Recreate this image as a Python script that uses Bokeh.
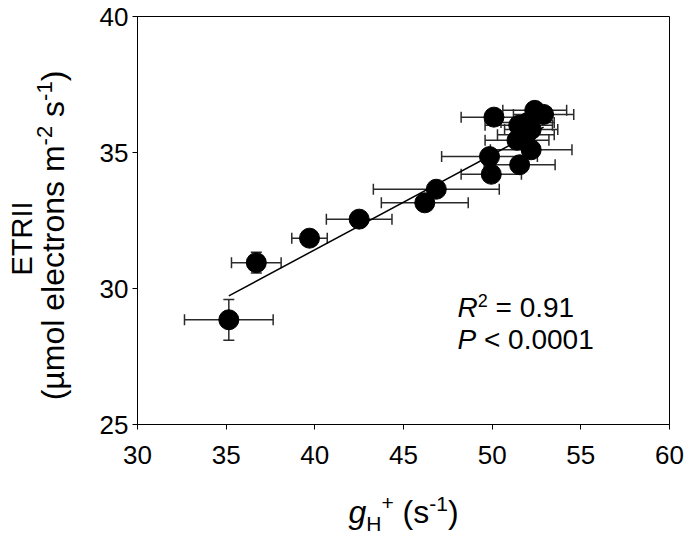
import math
from bokeh.plotting import figure
from bokeh.layouts import row, column
from bokeh.models import ColumnDataSource, Whisker, TeeHead, Label, Range1d, FixedTicker
from bokeh.embed import file_html
from bokeh.resources import INLINE

# ---- data ----
gh = [35.15, 36.7, 39.7, 42.5, 46.2, 46.85, 49.95, 49.85, 51.55, 52.2,
      51.4, 51.9, 51.5, 52.2, 50.1, 52.4, 52.9, 52.0]
etr = [28.85, 30.95, 31.85, 32.55, 33.15, 33.65, 34.2, 34.85, 34.55, 35.1,
       35.45, 35.65, 36.0, 35.85, 36.3, 36.55, 36.4, 36.1]
gh_err = [2.5, 1.4, 1.0, 1.85, 2.45, 3.55, 1.7, 2.7, 2.0, 2.3,
          1.8, 1.6, 1.9, 1.5, 1.85, 1.8, 1.7, 1.5]
etr_err = [0.75, 0.38, 0.2, 0.2, 0.2, 0.2, 0.2, 0.2, 0.2, 0.2,
           0.2, 0.2, 0.2, 0.2, 0.2, 0.2, 0.2, 0.2]
fit_intercept = 17.44
fit_slope = 0.3496
x_ticks = [30, 35, 40, 45, 50, 55, 60]
y_ticks = [25, 30, 35, 40]
r2_text = "0.91"
p_text = "0.0001"

FONT = "Liberation Sans"
NB = "\u00a0"
BASE_FIX = 0.4   # empirical: label glyph baseline sits this many em below the anchor
W = {' ': 278, NB: 278, '(': 333, ')': 333, 'µ': 576, 'm': 833, 'o': 556, 'l': 222,
     'e': 556, 'c': 500, 't': 278, 'r': 333, 'n': 556, 's': 500, '-': 333, '1': 556,
     '2': 556, 'H': 722, '+': 584, 'g': 556, 'R': 722, 'P': 667, '=': 584, '<': 584,
     '0': 556, '.': 278, '9': 556, 'E': 667, 'T': 611, 'I': 278}


def tw(s, size):
    return sum(W.get(c, 556) for c in s) * size / 1000.0


def mk_label(x, y, text, size, style="normal", angle=0.0, align="left",
             x_offset=0.0, y_offset=0.0):
    if angle:
        x_offset -= BASE_FIX * size
    else:
        y_offset += BASE_FIX * size
    lab = Label(x=x, y=y, text=text, angle=angle, x_offset=x_offset, y_offset=y_offset)
    lab.text_font = FONT
    lab.text_font_size = f"{size}px"
    lab.text_font_style = style
    lab.text_color = "black"
    lab.text_align = align
    lab.text_baseline = "alphabetic"
    return lab


# ---- layout sizes (page pixels) ----
LW = 90            # width of the left title strip
PW = 685 - LW      # main figure width
PH = 480           # main figure height
BH = 536 - PH      # bottom title strip height
TOP = 16           # frame top (page px)
BOT = 424          # frame bottom (page px)

src = ColumnDataSource(dict(
    x=gh, y=etr,
    xl=[a - b for a, b in zip(gh, gh_err)], xu=[a + b for a, b in zip(gh, gh_err)],
    yl=[a - b for a, b in zip(etr, etr_err)], yu=[a + b for a, b in zip(etr, etr_err)],
))

p = figure(width=PW, height=PH, output_backend="svg", toolbar_location=None,
           x_range=Range1d(30, 60), y_range=Range1d(25, 40),
           min_border_left=137 - LW, min_border_right=16, min_border_top=TOP,
           min_border_bottom=PH - BOT)
p.background_fill_color = "white"
p.border_fill_color = "white"
p.xgrid.visible = False
p.ygrid.visible = False
p.outline_line_color = "black"
p.outline_line_width = 1
for ax in (p.xaxis[0], p.yaxis[0]):
    ax.major_tick_out = 5
    ax.major_tick_in = 0
    ax.minor_tick_out = 0
    ax.minor_tick_in = 0
    ax.axis_line_color = "black"
    ax.major_tick_line_color = "black"
    ax.major_label_text_font = FONT
    ax.major_label_text_font_size = "26px"
    ax.major_label_text_color = "black"
p.xaxis[0].ticker = FixedTicker(ticks=x_ticks)
p.yaxis[0].ticker = FixedTicker(ticks=y_ticks)
p.xaxis[0].major_label_standoff = 16
p.yaxis[0].major_label_standoff = 4

# error bars
col = "#2a2a2a"
p.add_layout(Whisker(source=src, base="y", lower="xl", upper="xu", dimension="width",
                     line_color=col, line_width=1.5,
                     lower_head=TeeHead(size=11, line_color=col, line_width=1.5),
                     upper_head=TeeHead(size=11, line_color=col, line_width=1.5)))
p.add_layout(Whisker(source=src, base="x", lower="yl", upper="yu", dimension="height",
                     line_color=col, line_width=1.5,
                     lower_head=TeeHead(size=11, line_color=col, line_width=1.5),
                     upper_head=TeeHead(size=11, line_color=col, line_width=1.5)))

# regression line
fx = [min(gh), max(gh)]
fy = [fit_intercept + fit_slope * v for v in fx]
p.line(fx, fy, line_color="black", line_width=1.5)

p.scatter("x", "y", source=src, size=20, fill_color="black", line_color="black")

# statistics text (data position of the block's left/baseline)
PX = 532 / 30.0
PY = (BOT - TOP) / 15.0
sx0 = 30 + (457 - 137) / PX
r2y = 25 + (BOT - 318) / PY
py_ = 25 + (BOT - 350) / PY
adv = 0.0
for t, s, st, sh in [("R", 28, "italic", 0), ("2", 18, "normal", 11),
                     (NB + "=" + NB + r2_text, 28, "normal", 0)]:
    p.add_layout(mk_label(sx0, r2y, t, s, st, x_offset=adv, y_offset=sh))
    adv += tw(t, s)
adv = 0.0
for t, s, st, sh in [("P", 28, "italic", 0), (NB + "<" + NB + p_text, 28, "normal", 0)]:
    p.add_layout(mk_label(sx0, py_, t, s, st, x_offset=adv, y_offset=sh))
    adv += tw(t, s)


def strip(w, h):
    f = figure(frame_width=w, frame_height=h, output_backend="svg", toolbar_location=None,
               x_range=Range1d(0, w), y_range=Range1d(0, h),
               x_axis_location=None, y_axis_location=None,
               min_border=0, min_border_left=0, min_border_right=0,
               min_border_top=0, min_border_bottom=0)
    f.outline_line_color = None
    f.background_fill_color = "white"
    f.border_fill_color = "white"
    f.xgrid.visible = False
    f.ygrid.visible = False
    return f


# ---- left strip: y-axis title (pixel coordinates, y up) ----
L = strip(LW, PH)
L.add_layout(mk_label(33, PH - 222, "ETRII", 29, angle=math.pi / 2, align="center"))
yt = [("(µmol electrons m", 32, 0), ("-2", 22, 12),
      (NB + "s", 32, 0), ("-1", 22, 12), (")", 32, 0)]
tot2 = sum(tw(t, s) for t, s, _ in yt)
y0 = (PH - 219) - tot2 / 2
adv = 0.0
for t, s, sh in yt:
    L.add_layout(mk_label(65 - sh, y0 + adv, t, s, angle=math.pi / 2))
    adv += tw(t, s)

# ---- bottom strip (full page width): x-axis title ----
B = strip(685, BH)
xt = [("g", 32, "italic", 0), ("H", 21, "normal", -7), ("+", 21, "normal", 13),
      (NB + "(s", 32, "normal", 0), ("-1", 21, "normal", 12), (")", 32, "normal", 0)]
tot = sum(tw(t, s) for t, s, _, _ in xt)
bx0 = 403 - tot / 2
by0 = 536 - 524
adv = 0.0
for t, s, st, sh in xt:
    B.add_layout(mk_label(bx0 + adv, by0 + sh, t, s, st))
    adv += tw(t, s)

layout = column(row(L, p, spacing=0), B, spacing=0)
open("out.html", "w").write(file_html(layout, INLINE))
